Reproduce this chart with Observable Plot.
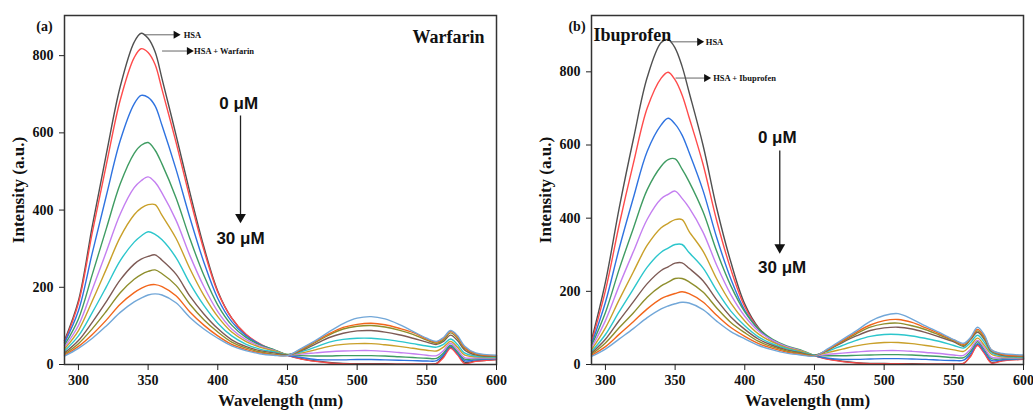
<!DOCTYPE html>
<html><head><meta charset="utf-8">
<script src="https://cdn.jsdelivr.net/npm/d3@7"></script>
<script src="https://cdn.jsdelivr.net/npm/@observablehq/plot@0.6"></script>
<style>
body{margin:0;background:#fff;}
#wrap{position:relative;width:1033px;height:420px;overflow:hidden;background:#fff;}
#a{position:absolute;left:0;top:0;width:516px;height:420px;}
#b{position:absolute;left:516px;top:0;width:517px;height:420px;}
</style></head><body><div id="wrap"><div id="a"></div><div id="b"></div></div>
<script>
// wavelengths (nm)
const wavelengths = [290,300,310,320,330,340,345,350,355,360,370,380,390,400,410,420,430,440,450,460,470,480,490,500,510,520,530,540,550,557,562,567,572,577,585,600];
const seriesNames = ["HSA","HSA + drug","c2","c3","c4","c5","c6","c7","c8","c9","c10"];
const seriesColors = ["#505050","#ff4b4b","#2f73e0","#3f9c62","#c47ff0","#c9a02a","#2cc6cc","#7d5a55","#8e8e2c","#f2661c","#72a7d8"];
const xTicks = [300,350,400,450,500,550,600];
const yTicks = [0,200,400,600,800];

// Panel (a) Warfarin
const aS0 = [62,165,360,545,720,835,858,845,810,740,595,445,305,190,120,78,52,35,24,15,9,5,3,2,2,2,1,1,1,3,22,45,28,6,9,13];
const aS1 = [58,159,343,517,685,795,818,808,777,712,576,431,297,187,120,79,54,37,24,14,8,4,2,1,1,1,1,1,1,2,18,42,25,3,8,13];
const aS2 = [56,139,290,437,580,675,697,692,670,619,506,380,265,171,111,75,53,38,24,18,13,12,12,13,13,12,11,10,9,10,25,47,30,10,12,15];
const aS3 = [50,118,234,352,468,547,568,575,555,519,432,326,231,154,102,71,51,39,25,23,22,22,23,23,23,22,20,18,16,16,30,50,33,14,15,16];
const aS4 = [45,101,195,292,390,458,476,486,472,444,374,282,202,137,92,65,48,37,25,27,30,33,35,36,36,34,31,28,24,23,36,55,38,18,17,17];
const aS5 = [40,88,165,247,330,388,405,414,414,386,327,248,179,124,84,60,45,36,26,30,38,47,52,54,54,51,47,42,37,35,45,60,45,25,20,18];
const aS6 = [35,74,135,201,269,317,333,344,337,323,277,210,153,107,74,53,40,33,26,33,45,58,65,68,68,65,60,54,48,45,52,66,52,30,22,19];
const aS7 = [30,62,110,163,219,260,273,280,284,270,234,177,131,93,64,47,36,30,25,36,53,70,81,87,88,84,77,68,58,52,60,76,62,38,25,21];
const aS8 = [27,54,93,138,186,221,233,241,245,235,205,156,116,84,58,43,33,27,24,38,57,77,92,99,101,97,89,78,63,55,64,82,68,42,27,22];
const aS9 = [24,47,78,115,156,186,197,205,207,202,178,136,102,74,52,39,30,25,23,40,60,80,96,104,107,103,94,83,66,58,68,86,72,45,28,23];
const aS10 = [22,42,68,100,135,162,172,180,183,180,160,122,92,68,48,36,28,24,23,42,62,85,106,120,124,118,104,86,68,60,70,88,75,48,30,24];

// Panel (b) Ibuprofen
const bS0 = [66,225,430,615,785,880,888,865,815,745,600,425,280,165,100,65,45,32,24,15,9,5,3,3,2,2,1,1,1,3,24,54,32,6,11,15];
const bS1 = [61,202,384,549,701,783,799,778,737,676,548,391,260,158,98,65,46,34,24,14,8,4,2,2,2,1,1,1,1,3,22,52,30,4,10,14];
const bS2 = [55,170,319,455,583,655,673,657,627,580,476,345,234,148,96,66,48,36,24,17,14,14,15,16,16,15,14,12,11,12,30,57,35,11,13,16];
const bS3 = [51,142,262,372,478,542,560,562,534,500,418,308,215,144,97,69,51,40,25,24,24,25,26,27,27,26,24,22,19,19,36,62,40,16,16,17];
const bS4 = [46,120,217,308,397,453,465,474,454,429,362,270,191,132,91,66,49,38,25,28,31,34,37,38,38,36,33,30,26,25,42,66,45,20,18,18];
const bS5 = [40,100,178,253,326,374,386,396,396,364,310,233,168,119,83,61,46,37,26,33,42,51,57,60,60,57,52,46,40,36,52,72,52,28,21,19];
const bS6 = [35,82,145,206,266,307,318,328,328,306,264,201,146,106,75,56,43,34,26,37,52,66,77,82,82,78,71,63,52,45,60,80,60,32,23,20];
const bS7 = [31,69,121,171,221,257,267,277,278,263,229,176,130,96,69,52,40,32,25,40,60,78,93,100,102,97,87,75,62,50,68,88,68,36,25,22];
const bS8 = [28,59,101,141,184,215,225,235,235,226,198,154,115,87,63,48,37,30,24,41,63,84,102,111,113,106,95,80,65,52,71,92,72,38,27,23];
const bS9 = [25,49,83,117,152,180,188,194,199,194,171,134,101,77,57,44,34,28,23,42,65,88,108,120,123,115,100,84,67,55,72,96,76,40,28,24];
const bS10 = [22,42,70,98,128,152,160,166,170,168,150,118,90,70,52,40,31,26,23,44,68,92,118,134,139,124,105,87,68,58,74,102,80,40,30,26];

const serif = "'Liberation Serif','Times New Roman',serif";
const sans = "'Liberation Sans',Arial,sans-serif";

function rowsOf(series) {
  const rows = [];
  series.forEach((vals, k) => vals.forEach((v, i) => rows.push({wl: wavelengths[i], v, s: seriesNames[k]})));
  return rows;
}

function panel(o) {
  const rows = rowsOf(o.series);
  return Plot.plot({
    width: o.width, height: 420,
    marginLeft: o.ml, marginRight: o.mr, marginTop: 15, marginBottom: 56,
    x: {domain: [290, 600]},
    y: {domain: [0, o.yMax]},
    color: {domain: seriesNames, range: seriesColors},
    style: {fontFamily: serif, fontWeight: "bold", fontSize: "14px", color: "#111", background: "#fff", overflow: "visible"},
    marks: [
      Plot.line(rows, {x: "wl", y: "v", z: "s", stroke: "s", strokeWidth: 1.4, curve: "catmull-rom"}),
      Plot.frame({stroke: "#333", strokeWidth: 1.5}),
      Plot.axisX({ticks: xTicks, tickSize: 6, tickPadding: 5, label: null, fontSize: 14, stroke: "#222"}),
      Plot.axisY({ticks: yTicks, tickSize: 5, tickPadding: 6, label: null, fontSize: 14, stroke: "#222"}),
      Plot.text(["Wavelength (nm)"], {frameAnchor: "bottom", dy: 41, fontSize: 17, fontWeight: "bold", fontFamily: serif, fill: "#111"}),
      Plot.text(["Intensity (a.u.)"], {frameAnchor: "left", dx: -46, rotate: -90, textAnchor: "middle", fontSize: 17, fontWeight: "bold", fontFamily: serif, fill: "#111"}),
      Plot.text([o.tag], {frameAnchor: "top-left", dx: o.tagDx, dy: 6, textAnchor: "middle", fontSize: 14, fontWeight: "bold", fontFamily: serif, fill: "#111"}),
      Plot.text([o.drug], {frameAnchor: o.drugAnchor, dx: o.drugDx, dy: o.drugDy, textAnchor: o.drugText, fontSize: 18, fontWeight: "bold", fontFamily: serif, fill: "#111"}),
      // HSA annotations
      Plot.link(o.ann, {x1: "x1", x2: "x2", y1: "y", y2: "y", stroke: "#555", strokeWidth: 0.9}),
      Plot.dot(o.ann, {x: "x2", y: "y", symbol: "triangle", rotate: 90, r: 3, fill: "#111", stroke: null}),
      Plot.text(o.ann, {x: "xt", y: "y", text: "label", textAnchor: "start", fontSize: 8.5, fontWeight: "bold", fontFamily: serif, fill: "#111"}),
      // concentration arrow
      Plot.text(o.conc, {x: "x", y: "y", text: "label", fontSize: 17, fontWeight: "bold", fontFamily: sans, fill: "#111"}),
      Plot.link([o.arrow], {x1: "x", x2: "x", y1: "y1", y2: "y2", stroke: "#222", strokeWidth: 1.3}),
      Plot.dot([o.arrow], {x: "x", y: "y2", symbol: "triangle", rotate: 180, r: 4, fill: "#111", stroke: null})
    ]
  });
}

document.getElementById("a").append(panel({
  width: 516, ml: 64, mr: 20, yMax: 904,
  series: [aS0,aS1,aS2,aS3,aS4,aS5,aS6,aS7,aS8,aS9,aS10],
  tag: "(a)", tagDx: -20,
  drug: "Warfarin", drugAnchor: "top-right", drugDx: -12, drugDy: 15, drugText: "end",
  ann: [{x1: 347, x2: 370, xt: 375.5, y: 854, label: "HSA"},
        {x1: 360, x2: 379.5, xt: 383, y: 812, label: "HSA + Warfarin"}],
  conc: [{x: 415, y: 676, label: "0 μM"}, {x: 416.3, y: 326, label: "30 μM"}],
  arrow: {x: 416.3, y1: 645, y2: 382}
}));

document.getElementById("b").append(panel({
  width: 517, ml: 75, mr: 10, yMax: 954,
  series: [bS0,bS1,bS2,bS3,bS4,bS5,bS6,bS7,bS8,bS9,bS10],
  tag: "(b)", tagDx: -14.5,
  drug: "Ibuprofen", drugAnchor: "top-left", drugDx: 2, drugDy: 13, drugText: "start",
  ann: [{x1: 346.7, x2: 367.5, xt: 372, y: 882, label: "HSA"},
        {x1: 350.3, x2: 372.5, xt: 377.3, y: 783, label: "HSA + Ibuprofen"}],
  conc: [{x: 423.3, y: 621, label: "0 μM"}, {x: 426.8, y: 266, label: "30 μM"}],
  arrow: {x: 425.1, y1: 585, y2: 320}
}));
</script></body></html>
